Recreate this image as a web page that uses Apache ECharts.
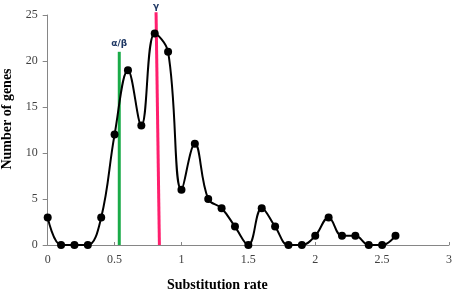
<!DOCTYPE html>
<html><head><meta charset="utf-8">
<script src="https://cdn.jsdelivr.net/npm/echarts@6/dist/echarts.min.js"></script>
<style>html,body{margin:0;padding:0;background:#fff}#c{width:454px;height:289px}</style>
</head><body><div id="c"></div>
<script>
var rates = [0,0.1,0.2,0.3,0.4,0.5,0.6,0.7,0.8,0.9,1.0,1.1,1.2,1.3,1.4,1.5,1.6,1.7,1.8,1.9,2.0,2.1,2.2,2.3,2.4,2.5,2.6];
var genes = [3,0,0,0,3,12,19,13,23,21,6,11,5,4,2,0,4,2,0,0,1,3,1,1,0,0,1];
var alphaBetaX = [0.535, 0.535];
var alphaBetaY = [0, 21];
var gammaX = [0.835, 0.81];
var gammaY = [0, 25.3];
var markerLabels = ['α/β', 'γ'];

function pairs(xs, ys, label) {
  return xs.map(function (x, i) {
    var d = { value: [x, ys[i]] };
    if (i === xs.length - 1) d.label = { show: true, formatter: label };
    return d;
  });
}

var chart = echarts.init(document.getElementById('c'), null, { renderer: 'canvas' });
var serif = 'Liberation Serif';
chart.setOption({
  animation: false,
  grid: { left: 47.7, right: 5, top: 15, bottom: 44, containLabel: false, outerBoundsMode: 'none' },
  xAxis: {
    type: 'value', min: 0, max: 3, interval: 0.5,
    name: 'Substitution rate', nameLocation: 'middle', nameGap: 33,
    nameTextStyle: { fontFamily: serif, fontWeight: 'bold', fontSize: 14, color: '#000', padding: [0, 62, 0, 0] },
    axisLine: { lineStyle: { color: '#868686', width: 1 } },
    axisTick: { show: true, inside: true, length: 3, lineStyle: { color: '#868686' } },
    axisLabel: { fontFamily: serif, fontSize: 12, color: '#404040', margin: 9 },
    splitLine: { show: false }
  },
  yAxis: {
    type: 'value', min: 0, max: 25, interval: 5,
    name: 'Number of genes', nameLocation: 'middle', nameGap: 29,
    nameTextStyle: { fontFamily: serif, fontWeight: 'bold', fontSize: 14, color: '#000', padding: [0, 0, 0, 22] },
    axisLine: { show: true, lineStyle: { color: '#868686', width: 1 } },
    axisTick: { show: true, length: 5, lineStyle: { color: '#868686' } },
    axisLabel: { fontFamily: serif, fontSize: 12, color: '#404040', margin: 10 },
    splitLine: { show: false }
  },
  series: [
    {
      type: 'line', z: 1,
      data: pairs(alphaBetaX, alphaBetaY, markerLabels[0]),
      symbol: 'circle', symbolSize: 0, showSymbol: true, clip: false,
      itemStyle: { color: '#1aab48' },
      lineStyle: { color: '#1aab48', width: 3 },
      label: { position: 'top', distance: 4, fontFamily: 'DejaVu Sans', fontWeight: 'bold', fontSize: 9, color: '#1f3864' },
      labelLayout: { hideOverlap: false }
    },
    {
      type: 'line', z: 1,
      data: pairs(gammaX, gammaY, markerLabels[1]),
      symbol: 'circle', symbolSize: 0, showSymbol: true, clip: false,
      itemStyle: { color: '#ff1f6e' },
      lineStyle: { color: '#ff1f6e', width: 3 },
      label: { position: 'top', distance: 1, fontFamily: 'DejaVu Sans', fontWeight: 'bold', fontSize: 9, color: '#1f3864' },
      labelLayout: { hideOverlap: false }
    },
    {
      type: 'line', z: 3,
      data: rates.map(function (r, i) { return [r, genes[i]]; }),
      smooth: 0.4, clip: true,
      symbol: 'circle', symbolSize: 8,
      itemStyle: { color: '#000' },
      lineStyle: { color: '#000', width: 2 }
    }
  ]
});
</script></body></html>
